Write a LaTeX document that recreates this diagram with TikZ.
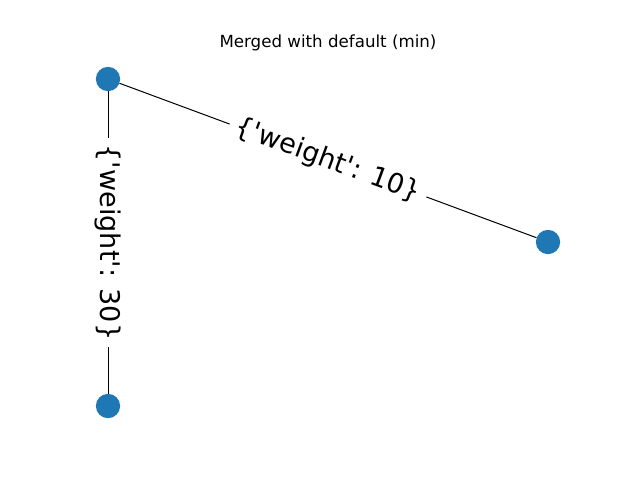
\documentclass[tikz,border=0pt]{standalone}
\usepackage{fontspec}
\setmainfont{DejaVu Sans}
\definecolor{nodeblue}{HTML}{1F77B4}
\newcommand{\sq}{\textquotesingle}
\tikzset{
  vtx/.style={circle,fill=nodeblue,inner sep=0pt,minimum size=17.5pt},
  wlabel/.style={fill=white,inner xsep=5pt,inner ysep=2pt,font=\fontsize{19.5}{22}\selectfont},
}
\begin{document}
\begin{tikzpicture}[x=0.72pt,y=-0.72pt]
    \useasboundingbox (0,0) rectangle (640,480);
    % nodes
    \node[font=\fontsize{12}{14}\selectfont] (title) at (328,43) {Merged with default (min)};
    \node[vtx] (a) at (108,79) {};
    \node[vtx] (b) at (548,242) {};
    \node[vtx] (c) at (108,406) {};
    % edges
    \draw[line width=0.72pt] (a)--(b) node[wlabel,midway,sloped] (lab) {\{\sq weight\sq: 10\}};
    \draw[line width=0.72pt] (a)--(c) node[wlabel,midway,rotate=-90] (lac) {\{\sq weight\sq: 30\}};
\end{tikzpicture}
\end{document}
